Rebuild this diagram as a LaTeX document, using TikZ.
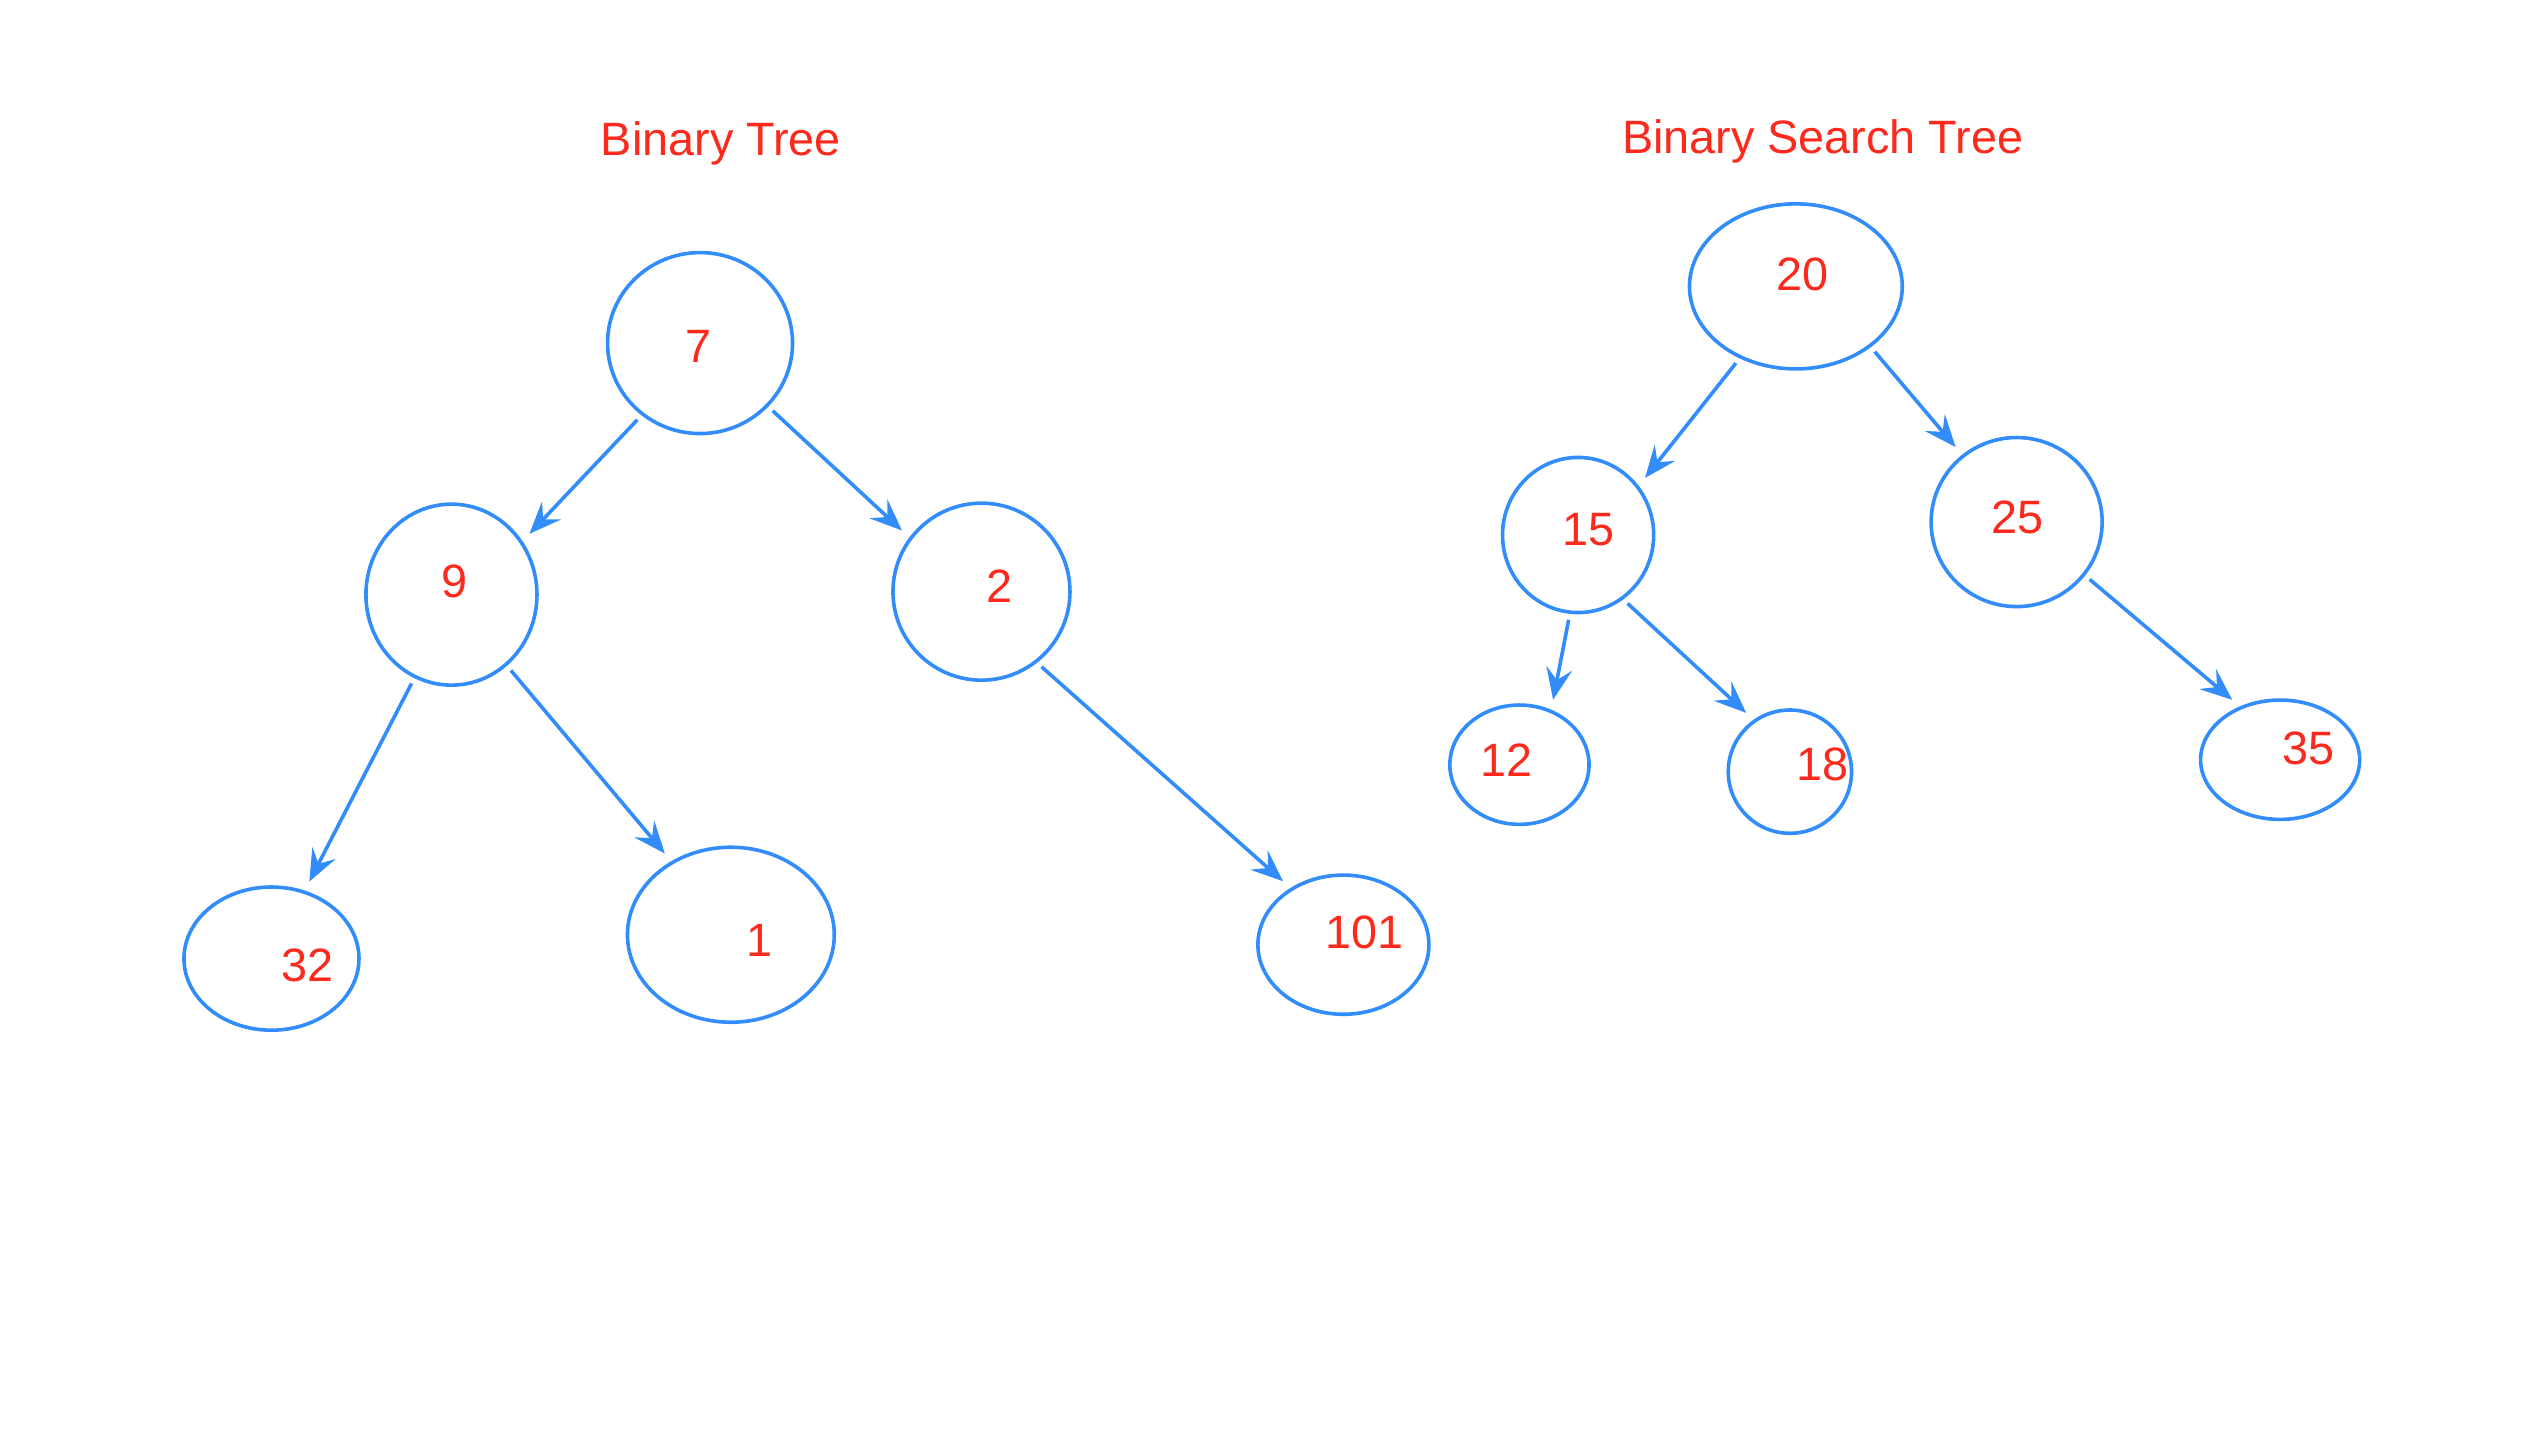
\documentclass[tikz,border=0pt]{standalone}
\usepackage{fontspec}
\setmainfont{Liberation Sans}
\usetikzlibrary{shapes.geometric,arrows.meta}
\definecolor{treeblue}{RGB}{50,140,250}
\definecolor{treered}{RGB}{252,42,28}
\tikzset{tn/.style 2 args={ellipse,draw=treeblue,line width=0.9pt,inner sep=0pt,
        minimum width=#1*0.2486pt,minimum height=#2*0.2486pt}}
\begin{document}
\begin{tikzpicture}[x=0.2486pt,y=-0.2486pt]
        \tikzstyle{num}=[text=treered,inner sep=0pt,font=\fontsize{11.7}{14}\selectfont]
        \tikzstyle{title}=[num,anchor=base]
        \tikzstyle{arw}=[-{Stealth[length=8pt,width=6.5pt,inset=3pt]},draw=treeblue,line width=0.9pt,
            shorten <=1.5pt,shorten >=2.5pt]
        \useasboundingbox (0pt,0pt) rectangle (634pt,-359pt);
        % binary tree
        \node[title] (bt) at (725,156) {Binary Tree};
        \node[tn={186}{182}] (n7) at (704,345) {};
        \node[tn={172}{182}] (n9) at (454,598) {};
        \node[tn={178}{178}] (n2) at (987,595) {};
        \node[tn={176}{144}] (n32) at (273,964) {};
        \node[tn={208}{176}] (n1) at (735,940) {};
        \node[tn={172}{140}] (n101) at (1351,950) {};
        \node[num] (t7) at (702,348) {7};
        \node[num] (t9) at (457,585) {9};
        \node[num] (t2) at (1005,589) {2};
        \node[num] (t32) at (309,971) {32};
        \node[num] (t1) at (764,946) {1};
        \node[num] (t101) at (1372,938) {101};
        \draw[arw] (n7.231) -- (n9.37);
        \draw[arw] (n7.-43) -- (n2.143);
        \draw[arw] (n9.-114) -- (n32.64);
        \draw[arw] (n9.-52) -- (n1.129);
        \draw[arw] (n2.-52) -- (n101.133);
        % binary search tree
        \node[title] (bst) at (1833,154) {Binary Search Tree};
        \node[tn={214}{166}] (n20) at (1806,288) {};
        \node[tn={152}{156}] (n15) at (1587,538) {};
        \node[tn={172}{170}] (n25) at (2028,525) {};
        \node[tn={140}{120}] (n12) at (1528,769) {};
        \node[tn={124}{124}] (n18) at (1800,776) {};
        \node[tn={160}{120}] (n35) at (2293,764) {};
        \node[num] (t20) at (1813,276) {20};
        \node[num] (t15) at (1597,533) {15};
        \node[num] (t25) at (2029,520) {25};
        \node[num] (t12) at (1515,764) {12};
        \node[num] (t18) at (1833,769) {18};
        \node[num] (t35) at (2322,753) {35};
        \draw[arw] (n20.-128) -- (n15.39);
        \draw[arw] (n20.-39) -- (n25.129);
        \draw[arw] (n15.-96) -- (n12.60);
        \draw[arw] (n15.-55) -- (n18.125);
        \draw[arw] (n25.-38) -- (n35.127);
    \end{tikzpicture}
\end{document}
